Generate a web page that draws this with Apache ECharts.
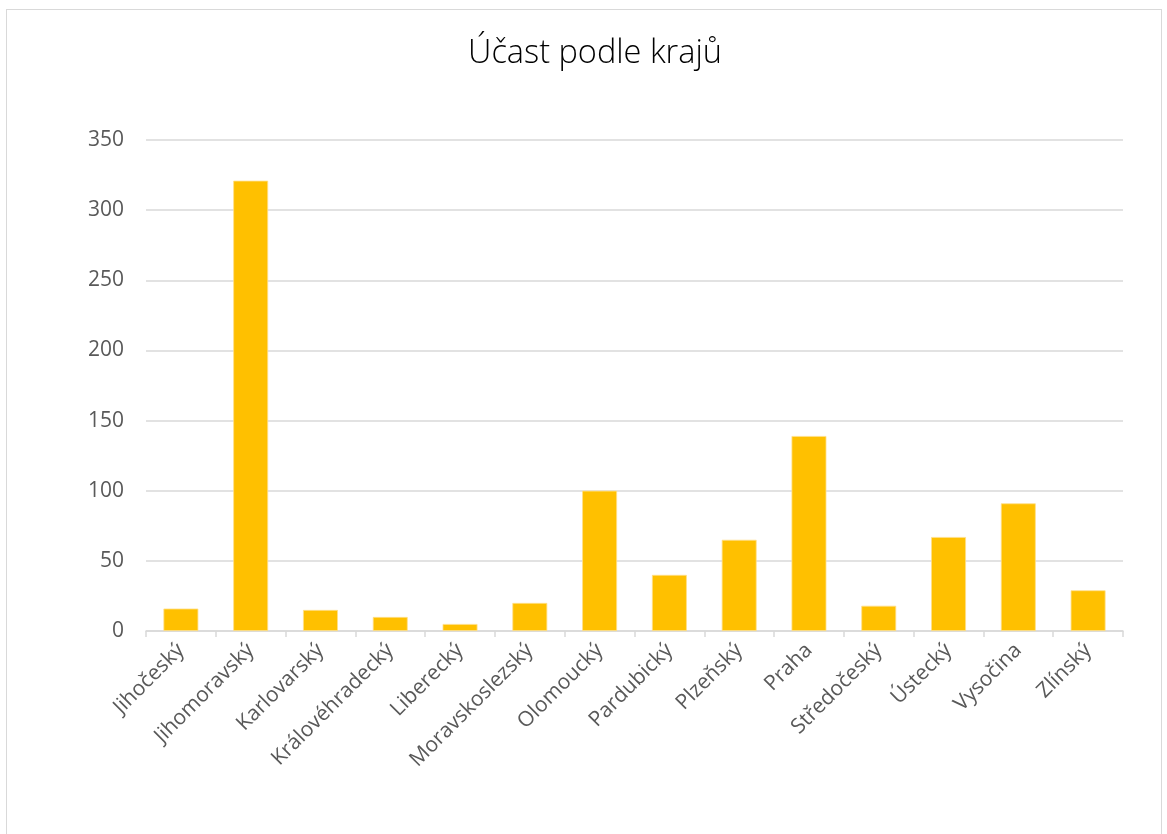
<!DOCTYPE html>
<html>
<head>
<meta charset="utf-8">
<script src="https://cdn.jsdelivr.net/npm/echarts@6/dist/echarts.min.js"></script>
<style>
  html, body { margin: 0; padding: 0; background: #fff; }
  #frame {
    position: absolute; left: 6px; top: 9px; width: 1156px; height: 840px;
    border: 1px solid #d9d9d9; box-sizing: border-box;
  }
  #chart { position: absolute; left: 0; top: 0; width: 1167px; height: 834px; }
</style>
</head>
<body>
<div id="frame"></div>
<div id="chart"></div>
<script>
const categories = ['Jihočeský', 'Jihomoravský', 'Karlovarský', 'Královéhradecký', 'Liberecký',
  'Moravskoslezský', 'Olomoucký', 'Pardubický', 'Plzeňský', 'Praha', 'Středočeský',
  'Ústecký', 'Vysočina', 'Zlínský']
const values = [16, 321, 15, 10, 5, 20, 100, 40, 65, 139, 18, 67, 91, 29]
const yTicks = [0, 50, 100, 150, 200, 250, 300, 350]

const chart = echarts.init(document.getElementById('chart'))

const option = {
  animation: false,
  title: {
    text: 'Účast podle krajů',
    left: 463,
    top: 32,
    textStyle: {
      fontFamily: 'Open Sans',
      fontSize: 32.5,
      fontWeight: 300,
      color: '#000'
    }
  },
  grid: {
    left: 146,
    right: 44,
    top: 140,
    bottom: 203
  },
  xAxis: {
    type: 'category',
    data: categories,
    axisLine: {
      lineStyle: { color: '#d9d9d9', width: 1.5 }
    },
    axisTick: {
      show: true,
      length: 6,
      lineStyle: { color: '#d9d9d9', width: 1.5 }
    },
    axisLabel: {
      rotate: 45,
      interval: 0,
      margin: 16,
      color: '#595959',
      fontFamily: 'Open Sans',
      fontSize: 21
    }
  },
  yAxis: {
    type: 'value',
    min: yTicks[0],
    max: yTicks[yTicks.length - 1],
    interval: 50,
    axisLine: { show: false },
    axisTick: { show: false },
    axisLabel: {
      margin: 22,
      color: '#595959',
      fontFamily: 'Open Sans',
      fontSize: 21
    },
    splitLine: {
      lineStyle: { color: '#d9d9d9', width: 1.5 }
    }
  },
  series: [
    {
      type: 'bar',
      data: values,
      barWidth: '50%',
      itemStyle: {
        color: '#ffc000',
        borderColor: '#ffe08a',
        borderWidth: 0.8
      }
    }
  ]
}

chart.setOption(option)
</script>
</body>
</html>
